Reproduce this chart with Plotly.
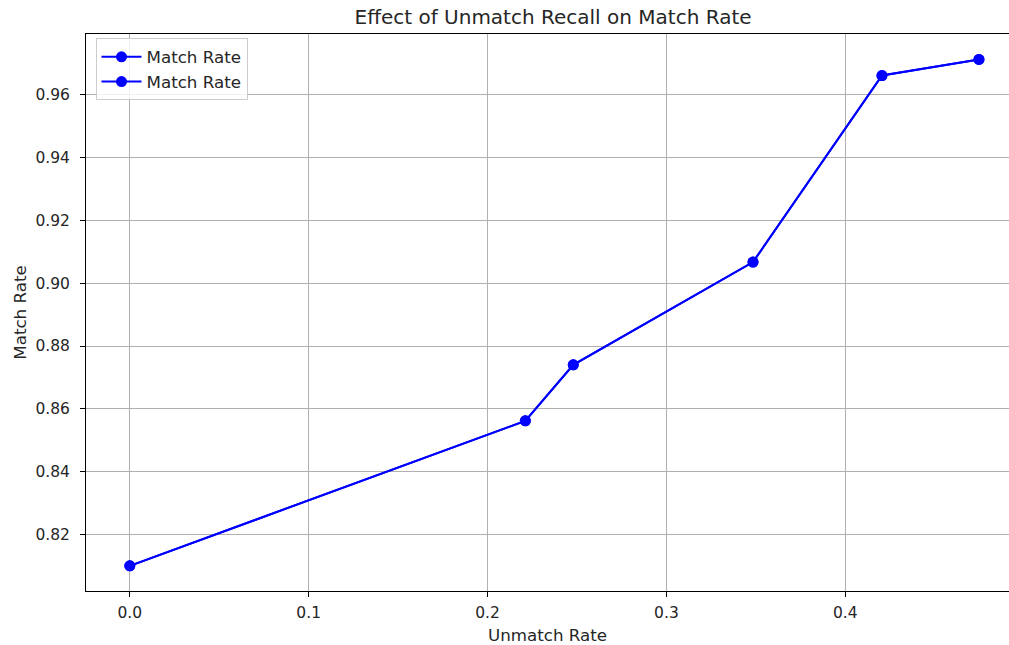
import plotly.graph_objects as go

unmatch_rate = [0.0, 0.2211, 0.2479, 0.3484, 0.4205, 0.4747]
match_rate = [0.8101, 0.8562, 0.8740, 0.9067, 0.9660, 0.9711]
x_ticks = [0.0, 0.1, 0.2, 0.3, 0.4]
y_ticks = [0.82, 0.84, 0.86, 0.88, 0.90, 0.92, 0.94, 0.96]

FONT = "DejaVu Sans"
TXT = "#262626"
fig = go.Figure()
for _ in range(2):
    fig.add_trace(go.Scatter(
        x=unmatch_rate, y=match_rate, mode="lines+markers", name="Match Rate",
        line=dict(color="#0000ff", width=2),
        marker=dict(color="#0000ff", size=11),
    ))

axis_common = dict(
    showgrid=True, gridcolor="#b0b0b0", gridwidth=1,
    showline=True, linecolor="black", linewidth=1, mirror=True,
    ticks="outside", ticklen=5, tickcolor="black", tickwidth=1,
    zeroline=False, tickfont=dict(family=FONT, size=15.5, color=TXT),
)

fig.update_layout(
    width=1009, height=645,
    margin=dict(l=86, r=0, t=34, b=54),
    paper_bgcolor="white", plot_bgcolor="white",
    font=dict(family=FONT, size=16.7, color=TXT),
    title=dict(text="Effect of Unmatch Recall on Match Rate", x=0.506, xref="paper",
               xanchor="center", y=0.973, yanchor="middle",
               font=dict(family=FONT, size=20, color=TXT)),
    xaxis=dict(range=[-0.0245, 0.4915], tickvals=x_ticks, tickformat=".1f",
               ticklabelstandoff=2,
               title=dict(text="Unmatch Rate", font=dict(family=FONT, size=16.7, color=TXT), standoff=8),
               **axis_common),
    yaxis=dict(range=[0.8021, 0.9792], tickvals=y_ticks, tickformat=".2f",
               ticklabelstandoff=7,
               title=dict(text="Match Rate", font=dict(family=FONT, size=16.7, color=TXT), standoff=4),
               **axis_common),
    legend=dict(x=0.0103, y=0.992, xanchor="left", yanchor="top", itemwidth=40,
                bgcolor="rgba(255,255,255,0.8)", bordercolor="#cccccc", borderwidth=1,
                font=dict(family=FONT, size=16.7, color=TXT)),
    showlegend=True,
)

fig.write_html("out.html")
